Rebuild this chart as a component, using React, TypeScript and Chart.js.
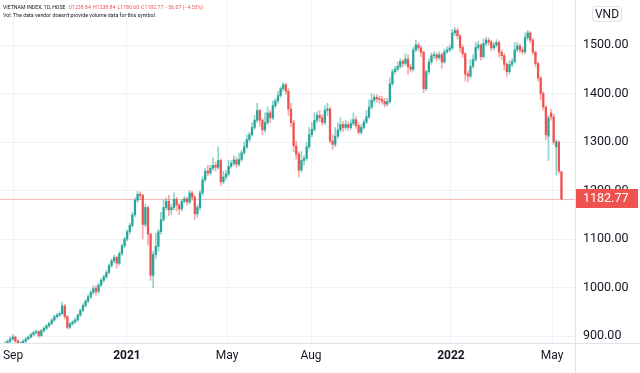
import React, { useEffect, useRef } from "react";
import { Chart, registerables } from "chart.js";
Chart.register(...registerables);

// Candles: one bar per two trading days, Sep 2020 - 12 May 2022 (VN-Index)
const opens = [
  880,884,889,894,898,890,883,886,889,894,
  898,903,907,909,901,911,916,921,926,933,
  940,943,946,962,940,918,925,929,933,943,
  953,963,972,981,990,998,992,1005,1015,1022,
  1031,1045,1055,1062,1050,1070,1086,1100,1115,1128,
  1150,1180,1192,1190,1130,1165,1110,1025,1068,1085,
  1115,1140,1165,1178,1160,1165,1182,1170,1162,1178,
  1183,1176,1195,1186,1152,1165,1195,1222,1240,1236,
  1246,1252,1248,1262,1218,1228,1234,1250,1256,1263,
  1254,1264,1278,1290,1305,1315,1330,1345,1365,1345,
  1325,1340,1360,1350,1375,1385,1396,1410,1418,1405,
  1368,1340,1292,1275,1242,1262,1266,1290,1315,1326,
  1345,1355,1350,1340,1365,1368,1302,1295,1312,1325,
  1336,1330,1336,1330,1338,1346,1334,1320,1330,1341,
  1352,1372,1386,1392,1389,1388,1384,1378,1383,1420,
  1445,1450,1456,1466,1462,1471,1455,1450,1490,1500,
  1494,1485,1410,1445,1465,1478,1480,1474,1480,1465,
  1486,1490,1494,1525,1530,1519,1495,1482,1440,1436,
  1456,1470,1495,1500,1476,1503,1510,1506,1494,1500,
  1505,1485,1478,1460,1445,1460,1466,1490,1498,1490,
  1486,1515,1525,1510,1485,1462,1432,1400,1372,1312,
  1360,1352,1290,1300,1238.84,
];
const highs = [
  888,892,898,903,900,892,889,893,897,901,
  906,911,913,911,914,919,924,929,936,943,
  947,950,970,965,942,928,932,937,946,956,
  967,976,985,994,1003,1004,1009,1019,1026,1035,
  1049,1059,1067,1065,1074,1090,1104,1119,1133,1155,
  1185,1198,1197,1193,1172,1168,1112,1075,1112,1120,
  1155,1180,1185,1190,1172,1195,1186,1174,1182,1188,
  1186,1200,1198,1190,1170,1200,1228,1246,1252,1252,
  1268,1258,1290,1265,1240,1242,1262,1262,1272,1268,
  1277,1283,1300,1315,1320,1340,1355,1380,1368,1348,
  1360,1372,1365,1385,1390,1405,1414,1422,1421,1410,
  1380,1345,1302,1280,1280,1272,1300,1330,1340,1360,
  1362,1365,1356,1375,1380,1372,1315,1330,1340,1350,
  1342,1345,1342,1346,1360,1352,1340,1336,1346,1365,
  1387,1400,1398,1398,1395,1394,1390,1390,1432,1450,
  1456,1465,1472,1470,1482,1480,1460,1495,1510,1505,
  1498,1488,1448,1472,1484,1486,1484,1486,1484,1492,
  1496,1500,1532,1536,1535,1522,1500,1485,1446,1470,
  1480,1505,1508,1503,1512,1516,1515,1510,1506,1511,
  1508,1490,1482,1464,1468,1472,1505,1505,1502,1496,
  1525,1530,1528,1513,1488,1465,1435,1404,1375,1355,
  1368,1358,1305,1303,1238.84,
];
const lows = [
  877,882,886,891,886,879,880,884,887,892,
  896,900,904,897,899,908,913,918,923,930,
  937,940,944,935,914,915,922,926,930,940,
  950,960,968,977,986,984,988,1002,1011,1018,
  1028,1041,1051,1040,1046,1066,1082,1096,1110,1124,
  1146,1175,1182,1100,1125,1088,1015,1000,1060,1075,
  1110,1136,1160,1148,1150,1160,1158,1150,1158,1174,
  1170,1172,1180,1140,1145,1160,1190,1218,1230,1232,
  1242,1240,1244,1210,1214,1222,1230,1246,1252,1248,
  1250,1260,1274,1286,1300,1312,1326,1340,1332,1315,
  1320,1336,1340,1346,1370,1380,1392,1405,1398,1355,
  1332,1280,1265,1228,1238,1252,1262,1286,1310,1322,
  1340,1342,1334,1336,1355,1298,1285,1290,1308,1320,
  1322,1326,1324,1326,1334,1328,1316,1316,1326,1338,
  1348,1368,1382,1382,1380,1378,1372,1374,1380,1416,
  1440,1446,1452,1455,1458,1440,1444,1446,1486,1488,
  1476,1402,1406,1440,1460,1472,1468,1470,1452,1462,
  1482,1486,1490,1520,1512,1485,1474,1426,1424,1432,
  1452,1466,1490,1468,1472,1498,1500,1488,1490,1496,
  1475,1470,1448,1435,1440,1455,1462,1486,1484,1480,
  1482,1510,1504,1480,1455,1426,1387,1366,1305,1262,
  1345,1295,1232,1235,1180.60,
];
const closes = [
  884,889,894,898,890,883,886,889,894,898,
  903,907,909,901,911,916,921,926,933,940,
  943,946,962,940,918,925,929,933,943,953,
  963,972,981,990,998,992,1005,1015,1022,1031,
  1045,1055,1062,1050,1070,1086,1100,1115,1128,1150,
  1180,1192,1190,1130,1165,1110,1025,1068,1085,1115,
  1140,1165,1178,1160,1165,1182,1170,1162,1178,1183,
  1176,1195,1186,1152,1165,1195,1222,1240,1236,1246,
  1252,1248,1262,1218,1228,1234,1250,1256,1263,1254,
  1264,1278,1290,1305,1315,1330,1345,1365,1345,1325,
  1340,1360,1350,1375,1385,1396,1410,1418,1405,1368,
  1340,1292,1275,1242,1262,1266,1290,1315,1326,1345,
  1355,1350,1340,1365,1368,1302,1295,1312,1325,1336,
  1330,1336,1330,1338,1346,1334,1320,1330,1341,1352,
  1372,1386,1392,1389,1388,1384,1378,1383,1420,1445,
  1450,1456,1466,1462,1471,1455,1450,1490,1500,1494,
  1485,1410,1445,1465,1478,1480,1474,1480,1465,1486,
  1490,1494,1525,1530,1519,1495,1482,1440,1436,1456,
  1470,1495,1500,1476,1503,1510,1506,1494,1500,1505,
  1485,1478,1460,1445,1460,1466,1490,1498,1490,1486,
  1515,1525,1510,1485,1462,1432,1400,1372,1315,1350,
  1352,1300,1300,1240,1182.77,
];

// Time axis: candle index where each labelled month starts
const timeTickIdx = [3.1, 46.9, 85.4, 117.7, 171.5, 210.4];
const timeTickLabels = ["Sep", "2021", "May", "Aug", "2022", "May"];
const priceTicks = [900, 1000, 1100, 1200, 1300, 1400, 1500];
const priceMin = 885.6;
const priceMax = 1592.8;
const idxMin = -1.9;
const idxMax = 219.2;
const lastPrice = 1182.77;

const UP = "#26a69a";
const DOWN = "#ef5350";
const FONT = "Roboto, 'Noto Sans', sans-serif";
const TEXT = "#131722";
const GRID = "#f0f3fa";
const LINE = "#e0e3eb";

export default function App() {
  const ref = useRef<HTMLCanvasElement>(null);

  useEffect(() => {
    const isUp = (i: number) => closes[i] >= opens[i];
    const wickData = closes.map((_, i) => ({ x: i, y: [lows[i], highs[i]] }));
    const bodyData = closes.map((_, i) => ({ x: i, y: [opens[i], closes[i]] }));

    const overlay = {
      id: "overlay",
      beforeDatasetsDraw(chart: any) {
        const { ctx, chartArea, scales } = chart;
        const y = Math.round(scales.y.getPixelForValue(lastPrice)) + 0.5;
        ctx.save();
        ctx.strokeStyle = "#f7b9b8";
        ctx.lineWidth = 1;
        ctx.beginPath();
        ctx.moveTo(chartArea.left, y);
        ctx.lineTo(chartArea.right, y);
        ctx.stroke();
        ctx.restore();
      },
      afterDraw(chart: any) {
        const { ctx, chartArea, scales, width, height } = chart;
        ctx.save();
        ctx.strokeStyle = LINE;
        ctx.lineWidth = 1;
        ctx.beginPath();
        ctx.moveTo(Math.round(chartArea.right) + 0.5, 0);
        ctx.lineTo(Math.round(chartArea.right) + 0.5, height);
        ctx.moveTo(0, Math.round(chartArea.bottom) + 0.5);
        ctx.lineTo(width, Math.round(chartArea.bottom) + 0.5);
        ctx.stroke();
        const yc = scales.y.getPixelForValue(lastPrice);
        ctx.fillStyle = DOWN;
        ctx.fillRect(chartArea.right + 1, Math.round(yc - 9.5), 62, 19);
        ctx.fillStyle = "#ffffff";
        ctx.font = `12.5px ${FONT}`;
        ctx.textBaseline = "middle";
        ctx.textAlign = "left";
        ctx.fillText(lastPrice.toFixed(2), chartArea.right + 8, yc + 0.5);
        ctx.restore();
      },
    };

    const zeroPad = (s: any) => {
      s.paddingTop = 0;
      s.paddingBottom = 0;
      s.paddingLeft = 0;
      s.paddingRight = 0;
    };

    const chart = new Chart(ref.current as HTMLCanvasElement, {
      type: "bar",
      data: {
        datasets: [
          {
            data: wickData as any,
            backgroundColor: (c: any) => (isUp(c.dataIndex) ? "rgba(38,166,154,0.5)" : "rgba(239,83,80,0.5)"),
            barThickness: 1,
            grouped: false,
            order: 2,
          } as any,
          {
            data: bodyData as any,
            backgroundColor: (c: any) => (isUp(c.dataIndex) ? UP : DOWN),
            barThickness: 1.6,
            minBarLength: 1,
            grouped: false,
            order: 1,
          } as any,
        ],
      },
      options: {
        responsive: false,
        animation: false,
        events: [],
        layout: { padding: 0 },
        plugins: { legend: { display: false }, tooltip: { enabled: false } },
        scales: {
          x: {
            type: "linear",
            position: "bottom",
            min: idxMin,
            max: idxMax,
            offset: false,
            grid: { color: GRID, drawTicks: false, offset: false },
            border: { display: false },
            afterBuildTicks: (s: any) => {
              s.ticks = timeTickIdx.map((v) => ({ value: v }));
            },
            afterFit: (s: any) => {
              s.height = 30;
              zeroPad(s);
            },
            ticks: {
              autoSkip: false,
              maxRotation: 0,
              padding: 6,
              color: TEXT,
              callback: (_v: any, i: number) => timeTickLabels[i],
              font: (c: any) => ({
                family: FONT,
                size: 12,
                weight: c.index === 1 || c.index === 4 ? "bold" : "normal",
              }),
            },
          } as any,
          y: {
            type: "linear",
            position: "right",
            min: priceMin,
            max: priceMax,
            beginAtZero: false,
            grid: { color: GRID, drawTicks: false },
            border: { display: false },
            afterBuildTicks: (s: any) => {
              s.ticks = priceTicks.map((v) => ({ value: v }));
            },
            afterFit: (s: any) => {
              s.width = 65;
              zeroPad(s);
            },
            ticks: {
              padding: 8,
              color: TEXT,
              font: { family: FONT, size: 12.5 },
              callback: (v: any) => Number(v).toFixed(2),
            },
          } as any,
        },
      },
      plugins: [overlay],
    });
    return () => chart.destroy();
  }, []);

  const red = "#ef5350";
  const gap = { marginLeft: 2 };
  return (
    <div style={{ position: "fixed", left: 0, top: 0, width: 640, height: 373, background: "#fff", overflow: "hidden" }}>
      <canvas ref={ref} width={640} height={373} style={{ position: "absolute", left: 0, top: 0 }} />
      <div style={{ position: "absolute", left: 3, top: 4, fontFamily: FONT, fontSize: "5.2px", lineHeight: "7px", color: TEXT, whiteSpace: "nowrap" }}>
        <span>VIETNAM INDEX, 1D, HOSE</span>
        <span style={{ color: red, marginLeft: 3 }}>O1238.84</span>
        <span style={{ color: red, ...gap }}>H1238.84</span>
        <span style={{ color: red, ...gap }}>L1180.60</span>
        <span style={{ color: red, ...gap }}>C1182.77</span>
        <span style={{ color: red, ...gap }}>−56.07 (−4.53%)</span>
      </div>
      <div style={{ position: "absolute", left: 3, top: 12, fontFamily: FONT, fontSize: "5.3px", lineHeight: "7px", color: TEXT, whiteSpace: "nowrap" }}>
        Vol: The data vendor doesn't provide volume data for this symbol.
      </div>
      <div style={{ position: "absolute", left: 592, top: 6, width: 28, height: 14, border: `1px solid ${LINE}`, borderRadius: 3, fontFamily: FONT, fontSize: "12px", lineHeight: "14px", textAlign: "center", color: TEXT, background: "#fff" }}>
        VND
      </div>
    </div>
  );
}
